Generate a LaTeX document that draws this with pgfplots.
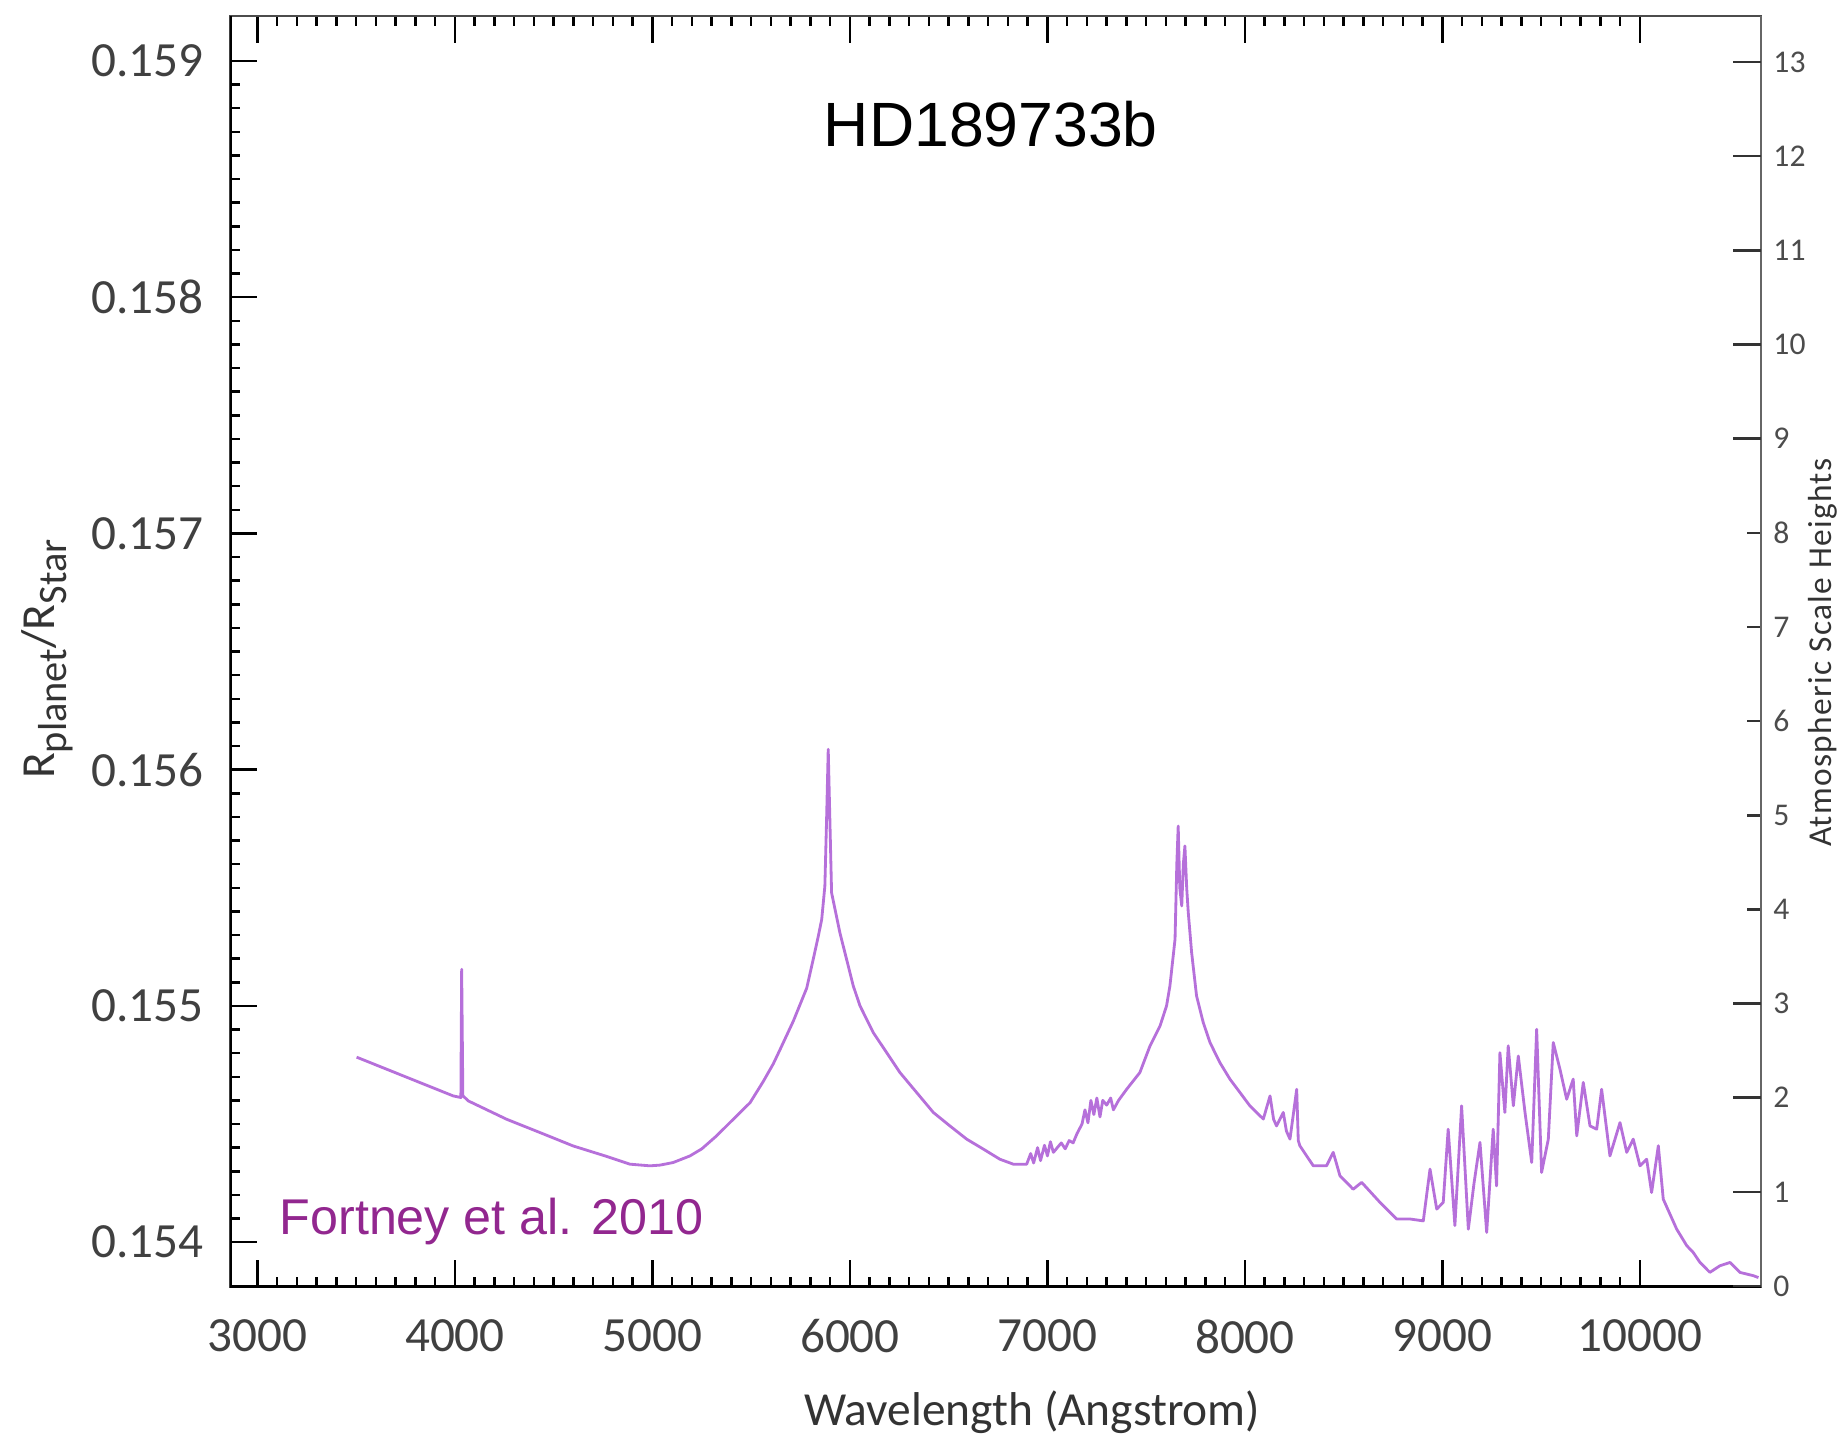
\documentclass[border=0pt]{standalone}
\usepackage{pgfplots}
\pgfplotsset{compat=1.18}
\usepackage{fontspec}
\setmainfont{Carlito}
\newfontfamily\arialf{Liberation Sans}
\definecolor{curve}{RGB}{182,112,218}
\definecolor{fortney}{RGB}{146,39,143}
\newcommand{\sub}[1]{\raisebox{-0.55ex}{\fontsize{11.5}{13}\selectfont #1}}
\begin{document}
\begin{tikzpicture}
\useasboundingbox (-23mm,-15.2mm) rectangle (161.5mm,128.7mm);
\begin{axis}[
  at={(0,0)}, anchor=south west,
  scale only axis, width=153.1mm, height=127.1mm,
  xmin=2861, xmax=10613, ymin=0.15381, ymax=0.15919,
  xtick={3000,4000,...,10000},
  ytick={0.154,0.155,0.156,0.157,0.158,0.159},
  minor x tick num=9, minor y tick num=9,
  xtick pos=both, ytick pos=left,
  tick align=inside,
  major tick length=2.7mm, minor tick length=1mm,
  every tick/.style={black, line width=0.25mm},
  axis line style={black!70, line width=0.2mm},
  scaled x ticks=false, scaled y ticks=false,
  /pgf/number format/assume math mode=true,
  tick label style={font=\fontsize{14}{16}\selectfont, text=black!75},
  xticklabel style={/pgf/number format/1000 sep={}, yshift=-2.0mm},
  yticklabel style={/pgf/number format/fixed, /pgf/number format/precision=3, /pgf/number format/fixed zerofill, xshift=-1.4mm},
  xlabel={Wavelength (Angstrom)},
  xlabel style={at={(axis description cs:0.524,-0.0983)}, anchor=center, font=\fontsize{13.5}{15}\selectfont, text=black!80},
  ylabel={R\sub{planet}/R\sub{Star}},
  ylabel style={at={(axis description cs:-0.1195,0.494)}, anchor=center, font=\fontsize{13.5}{15}\selectfont, text=black!80},
]
\addplot[curve, line width=0.8pt, line join=round] table {
3502 0.154783
3991 0.154619
4030 0.154612
4034 0.155155
4040 0.154620
4067 0.154598
4262 0.154520
4430 0.154464
4599 0.154407
4760 0.154365
4886 0.154330
4987 0.154323
5038 0.154326
5105 0.154337
5190 0.154365
5250 0.154395
5325 0.154450
5409 0.154520
5494 0.154590
5561 0.154680
5612 0.154755
5646 0.154815
5713 0.154935
5781 0.155075
5814 0.155197
5840 0.155296
5857 0.155366
5873 0.155507
5882 0.155800
5890 0.156086
5898 0.155800
5907 0.155479
5949 0.155310
5983 0.155197
6017 0.155084
6051 0.155000
6118 0.154887
6186 0.154802
6253 0.154718
6338 0.154633
6422 0.154549
6506 0.154492
6591 0.154436
6675 0.154394
6759 0.154351
6827 0.154330
6895 0.154330
6915 0.154375
6930 0.154335
6950 0.154400
6965 0.154345
6985 0.154410
7000 0.154365
7015 0.154425
7030 0.154380
7050 0.154400
7070 0.154420
7090 0.154395
7110 0.154430
7130 0.154420
7150 0.154460
7175 0.154500
7190 0.154560
7205 0.154505
7220 0.154600
7235 0.154540
7250 0.154610
7266 0.154530
7280 0.154600
7300 0.154580
7320 0.154610
7334 0.154560
7360 0.154600
7401 0.154647
7468 0.154718
7519 0.154830
7570 0.154915
7603 0.155000
7620 0.155084
7646 0.155282
7655 0.155600
7662 0.155761
7670 0.155500
7680 0.155423
7688 0.155600
7696 0.155677
7705 0.155500
7713 0.155395
7730 0.155226
7755 0.155042
7789 0.154929
7823 0.154845
7873 0.154760
7924 0.154690
7975 0.154633
8025 0.154577
8093 0.154521
8127 0.154619
8145 0.154520
8160 0.154492
8194 0.154549
8210 0.154470
8228 0.154436
8262 0.154647
8270 0.154430
8278 0.154408
8346 0.154323
8413 0.154323
8447 0.154380
8481 0.154281
8548 0.154224
8591 0.154253
8684 0.154168
8768 0.154098
8835 0.154098
8903 0.154090
8937 0.154309
8971 0.154140
9004 0.154168
9029 0.154478
9063 0.154070
9097 0.154577
9131 0.154055
9160 0.154250
9190 0.154422
9224 0.154041
9257 0.154478
9274 0.154238
9291 0.154802
9316 0.154549
9333 0.154831
9359 0.154577
9384 0.154788
9418 0.154549
9452 0.154337
9477 0.154901
9502 0.154295
9536 0.154436
9561 0.154845
9595 0.154732
9629 0.154605
9662 0.154690
9680 0.154450
9713 0.154676
9747 0.154492
9781 0.154478
9806 0.154647
9848 0.154365
9899 0.154506
9933 0.154380
9966 0.154436
10000 0.154323
10034 0.154351
10059 0.154210
10093 0.154408
10118 0.154182
10186 0.154055
10237 0.153985
10270 0.153956
10304 0.153914
10354 0.153872
10405 0.153900
10456 0.153914
10506 0.153872
10574 0.153858
10600 0.153850
};
\draw[black, line width=0.35mm] (rel axis cs:0,1) -- (rel axis cs:0,0) -- (rel axis cs:1,0);
\node[font=\arialf\fontsize{17.8}{20}\selectfont, anchor=center] at (rel axis cs:0.497,0.915) {HD189733b};
\node[font=\arialf\fontsize{14.3}{17}\selectfont, text=fortney, anchor=base west, inner sep=0pt] at (rel axis cs:0.032,0.041) {Fortney et al. 2010};
\end{axis}
\begin{axis}[
  at={(0,0)}, anchor=south west,
  scale only axis, width=153.1mm, height=127.1mm,
  xmin=2861, xmax=10613, ymin=-0.0106, ymax=13.489,
  axis x line=none, axis y line*=right,
  ytick={0,1,...,13},
  ytick pos=right, tick align=inside,
  major tick length=1.4mm,
  extra y ticks={0,1,2,3,9,10,11,12,13},
  extra y tick labels={},
  extra y tick style={major tick length=2.8mm},
  every tick/.style={black!80, line width=0.25mm},
  axis line style={black!60, line width=0.2mm},
  /pgf/number format/assume math mode=true,
  yticklabel style={font=\fontsize{9}{11}\selectfont, text=black!70},
  ylabel={Atmospheric Scale Heights},
  ylabel style={at={(axis description cs:1.0405,0.499)}, anchor=center, inner sep=0pt, font=\fontsize{9.5}{11}\selectfont\addfontfeature{LetterSpace=4}, text=black!80},
]
\end{axis}
\end{tikzpicture}
\end{document}
